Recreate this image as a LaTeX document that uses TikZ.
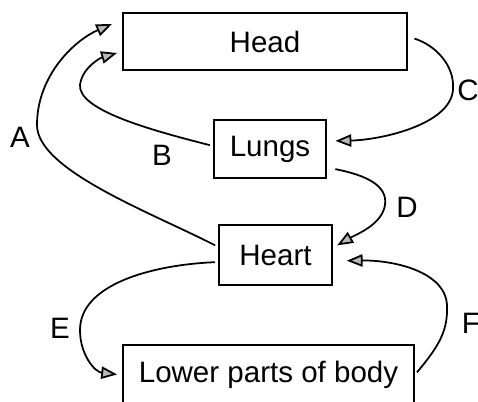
\documentclass[tikz,border=0pt]{standalone}
\usepackage{fontspec}
\setmainfont{Liberation Sans}
\usetikzlibrary{arrows.meta}

\begin{document}
\begin{tikzpicture}[
  x=0.2mm,y=-0.2mm,
  organ/.style={rectangle,draw,line width=0.8pt,inner sep=0pt,font=\fontsize{16.8}{20}\selectfont},
  flow/.style={-{Triangle[length=9pt,width=7pt,fill=gray!55]},line width=1pt,
    shorten >=3pt,shorten <=2pt},
  tag/.style={font=\fontsize{16.8}{20}\selectfont}
]
  \useasboundingbox (0,0) rectangle (478,402);

  % boxes
  \node[organ,minimum width=5.68cm,minimum height=1.14cm] (head) at (265,41.5) {Head};
  \node[organ,minimum width=2.24cm,minimum height=1.16cm] (lungs) at (270,149) {Lungs};
  \node[organ,minimum width=2.26cm,minimum height=1.2cm] (heart) at (275.5,255) {Heart};
  \node[organ,minimum width=5.82cm,minimum height=1.2cm] (lower) at (268.5,375) {Lower parts of body};

  \coordinate (aTip) at (112,24);
  \coordinate (bTip) at (117,53);

  % connectors
  \draw[flow,shorten >=0pt] (heart.172) .. controls (150,212) and (37,170) .. (37,125)
    .. controls (37,75) and (75,40) .. (aTip);
  \draw[flow,shorten >=0pt] (lungs.177) .. controls (150,130) and (78,110) .. (80,85)
    .. controls (82,68) and (100,58) .. (bTip);
  \draw[flow,shorten <=4pt,shorten >=5pt] (head.2) .. controls (435,45) and (455,65) .. (453,90)
    .. controls (450,125) and (380,140) .. (lungs.8);
  \draw[flow,shorten <=5pt,shorten >=3pt] (lungs.-18) .. controls (365,175) and (388,185) .. (385,205)
    .. controls (382,225) and (355,235) .. (heart.7);
  \draw[flow] (heart.187) .. controls (150,265) and (80,285) .. (80,330)
    .. controls (80,355) and (95,372) .. (lower.west);
  \draw[flow,shorten >=8pt] (lower.east) .. controls (440,345) and (448,330) .. (447,305)
    .. controls (445,270) and (390,260) .. (heart.-6);

  % labels
  \node[tag] (labA) at (20,137) {A};
  \node[tag] (labB) at (162,155) {B};
  \node[tag] (labC) at (468,90) {C};
  \node[tag] (labD) at (407,207) {D};
  \node[tag] (labE) at (60,328) {E};
  \node[tag] (labF) at (471,323) {F};
\end{tikzpicture}
\end{document}
